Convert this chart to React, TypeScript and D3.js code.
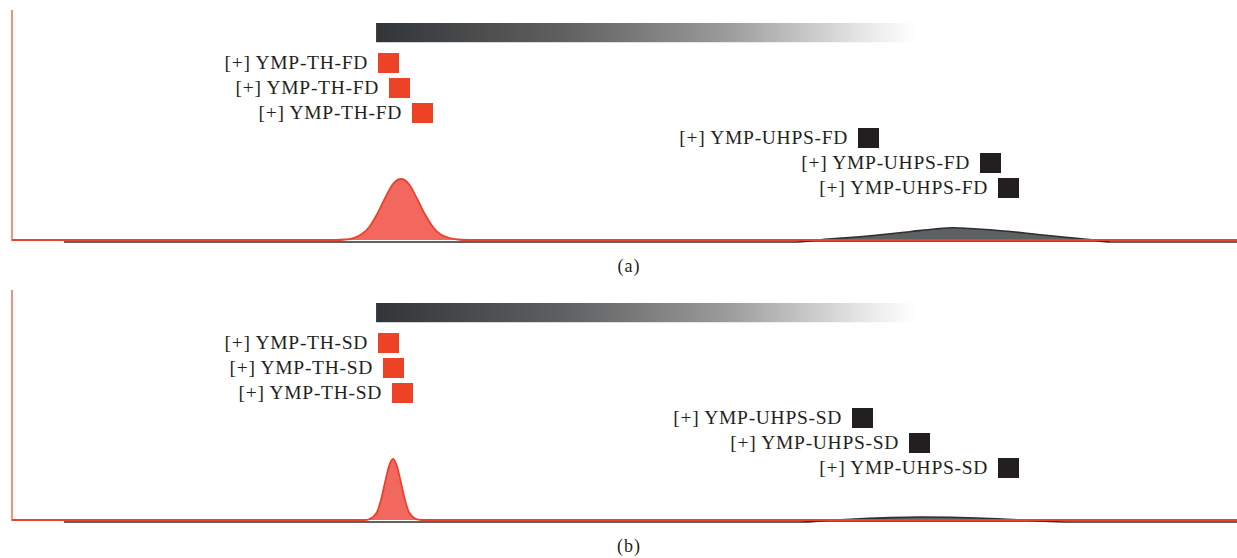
import * as d3 from 'd3';

// Elution time axis (min) and detector signal (arbitrary units)
const timeThFd = [0, 13.2, 13.6, 13.9, 14.25, 14.6, 14.9, 15.25, 15.55, 15.88, 16.2, 16.55, 16.85, 17.2, 17.5, 17.85, 18.2, 18.6, 50];
const signalThFd = [0, 0, 0.5, 1.7, 5.4, 13.5, 25.7, 43, 56, 61, 56, 40.5, 26, 12.5, 5.5, 2, 0.5, 0, 0];

const timeUhpsFd = [2.12, 31.88, 33.18, 34.61, 36.65, 37.67, 38.41, 39.1, 40.04, 42.08, 43.1, 44.12, 44.82, 50];
const signalUhpsFd = [0, 0, 2.6, 5.3, 10.3, 13, 14.3, 13.5, 12, 7, 4.5, 2, 0, 0];

const timeThSd = [0, 14.4, 14.57, 14.9, 15.06, 15.22, 15.39, 15.55, 15.71, 15.88, 16.04, 16.2, 16.53, 16.75, 50];
const signalThSd = [0, 0, 0.7, 8, 20, 37, 54, 61, 54, 37, 20, 8, 0.7, 0, 0];

const timeUhpsSd = [2.12, 32.16, 33.27, 34.61, 35.84, 37.06, 38.29, 39.39, 41.43, 43.18, 50];
const signalUhpsSd = [0, 0, 1.5, 3.2, 4.4, 5, 4.7, 4, 1.7, 0, 0];

// gradient elution window (min)
const gradientStart = 14.86;
const gradientEnd = 36.9;

const labelsThFd = ['[+] YMP-TH-FD', '[+] YMP-TH-FD', '[+] YMP-TH-FD'];
const labelsUhpsFd = ['[+] YMP-UHPS-FD', '[+] YMP-UHPS-FD', '[+] YMP-UHPS-FD'];
const labelsThSd = ['[+] YMP-TH-SD', '[+] YMP-TH-SD', '[+] YMP-TH-SD'];
const labelsUhpsSd = ['[+] YMP-UHPS-SD', '[+] YMP-UHPS-SD', '[+] YMP-UHPS-SD'];

const W = 1237;
const H = 558;
const RED = '#e9432b';
const RED_FILL = '#f2675e';
const RED_SQ = '#ee4227';
const DARK_SQ = '#231f20';
const FONT = '"Liberation Serif", "Times New Roman", serif';

const x = d3.scaleLinear().domain([0, 50]).range([12, W]);
const y = d3.scaleLinear().domain([0, 230]).range([240, 10]);

type Pt = { t: number; v: number };
const zip = (ts: number[], vs: number[]): Pt[] => ts.map((t, i) => ({ t, v: vs[i] }));

const area = d3.area<Pt>().x(d => x(d.t)).y0(y(0)).y1(d => y(d.v)).curve(d3.curveMonotoneX);
const line = d3.line<Pt>().x(d => x(d.t)).y(d => y(d.v)).curve(d3.curveMonotoneX);

interface LabelRow { text: string; sx: number; sy: number }

const Labels = ({ rows, color }: { rows: LabelRow[]; color: string }) => (
  <g>
    {rows.map((r, i) => (
      <g key={i}>
        <text
          x={r.sx - 10}
          y={r.sy + 15.5}
          textAnchor="end"
          fontFamily={FONT}
          fontSize={19.5}
          letterSpacing={0.7}
          fill="#231f20"
        >
          {r.text}
        </text>
        <rect x={r.sx} y={r.sy} width={21} height={20} fill={color} />
      </g>
    ))}
  </g>
);

interface PanelProps {
  id: string;
  dy: number;
  red: Pt[];
  gray: Pt[];
  redRows: LabelRow[];
  grayRows: LabelRow[];
  caption: string;
}

const Panel = ({ id, dy, red, gray, redRows, grayRows, caption }: PanelProps) => (
  <g transform={`translate(0,${dy})`}>
    <defs>
      <linearGradient id={`grad-${id}`} x1="0" x2="1" y1="0" y2="0">
        <stop offset="0%" stopColor="#323538" />
        <stop offset="35%" stopColor="#5f6061" />
        <stop offset="65%" stopColor="#9c9b9c" />
        <stop offset="90%" stopColor="#e6e6e6" />
        <stop offset="100%" stopColor="#ffffff" />
      </linearGradient>
    </defs>

    {/* gradient elution bar */}
    <rect
      x={x(gradientStart)}
      y={23}
      width={x(gradientEnd) - x(gradientStart)}
      height={19}
      fill={`url(#grad-${id})`}
    />
    <rect
      x={x(gradientStart)}
      y={41}
      width={x(gradientEnd) - x(gradientStart)}
      height={1.5}
      fill={`url(#grad-${id})`}
      opacity={0.45}
    />

    {/* y axis */}
    <line x1={x(0)} x2={x(0)} y1={10} y2={241} stroke="#f26b55" strokeWidth={1.5} />

    {/* UHPS trace, drawn slightly below */}
    <g transform="translate(0,2)">
      <path d={area(gray) ?? ''} fill="#5e6163" />
      <path d={line(gray) ?? ''} fill="none" stroke="#2e2e30" strokeWidth={1.6} />
    </g>

    {/* TH trace */}
    <path d={area(red) ?? ''} fill={RED_FILL} />
    <path d={line(red) ?? ''} fill="none" stroke={RED} strokeWidth={1.8} />

    <Labels rows={redRows} color={RED_SQ} />
    <Labels rows={grayRows} color={DARK_SQ} />

    <text x={629} y={272} textAnchor="middle" fontFamily={FONT} fontSize={18} letterSpacing={1} fill="#231f20">
      {caption}
    </text>
  </g>
);

const rowsOf = (labels: string[], xs: number[], ys: number[]): LabelRow[] =>
  labels.map((text, i) => ({ text, sx: xs[i], sy: ys[i] }));

export default function App() {
  return (
    <div style={{ position: 'fixed', left: 0, top: 0, background: '#fff' }}>
      <svg width={W} height={H} style={{ display: 'block' }}>
        <rect width={W} height={H} fill="#fff" />
        <Panel
          id="a"
          dy={0}
          red={zip(timeThFd, signalThFd)}
          gray={zip(timeUhpsFd, signalUhpsFd)}
          redRows={rowsOf(labelsThFd, [378, 389, 412], [53, 78, 103])}
          grayRows={rowsOf(labelsUhpsFd, [858, 980, 998], [128, 153, 178])}
          caption="(a)"
        />
        <Panel
          id="b"
          dy={280}
          red={zip(timeThSd, signalThSd)}
          gray={zip(timeUhpsSd, signalUhpsSd)}
          redRows={rowsOf(labelsThSd, [378, 383, 392], [53, 78, 103])}
          grayRows={rowsOf(labelsUhpsSd, [852, 909, 998], [128, 153, 178])}
          caption="(b)"
        />
      </svg>
    </div>
  );
}
